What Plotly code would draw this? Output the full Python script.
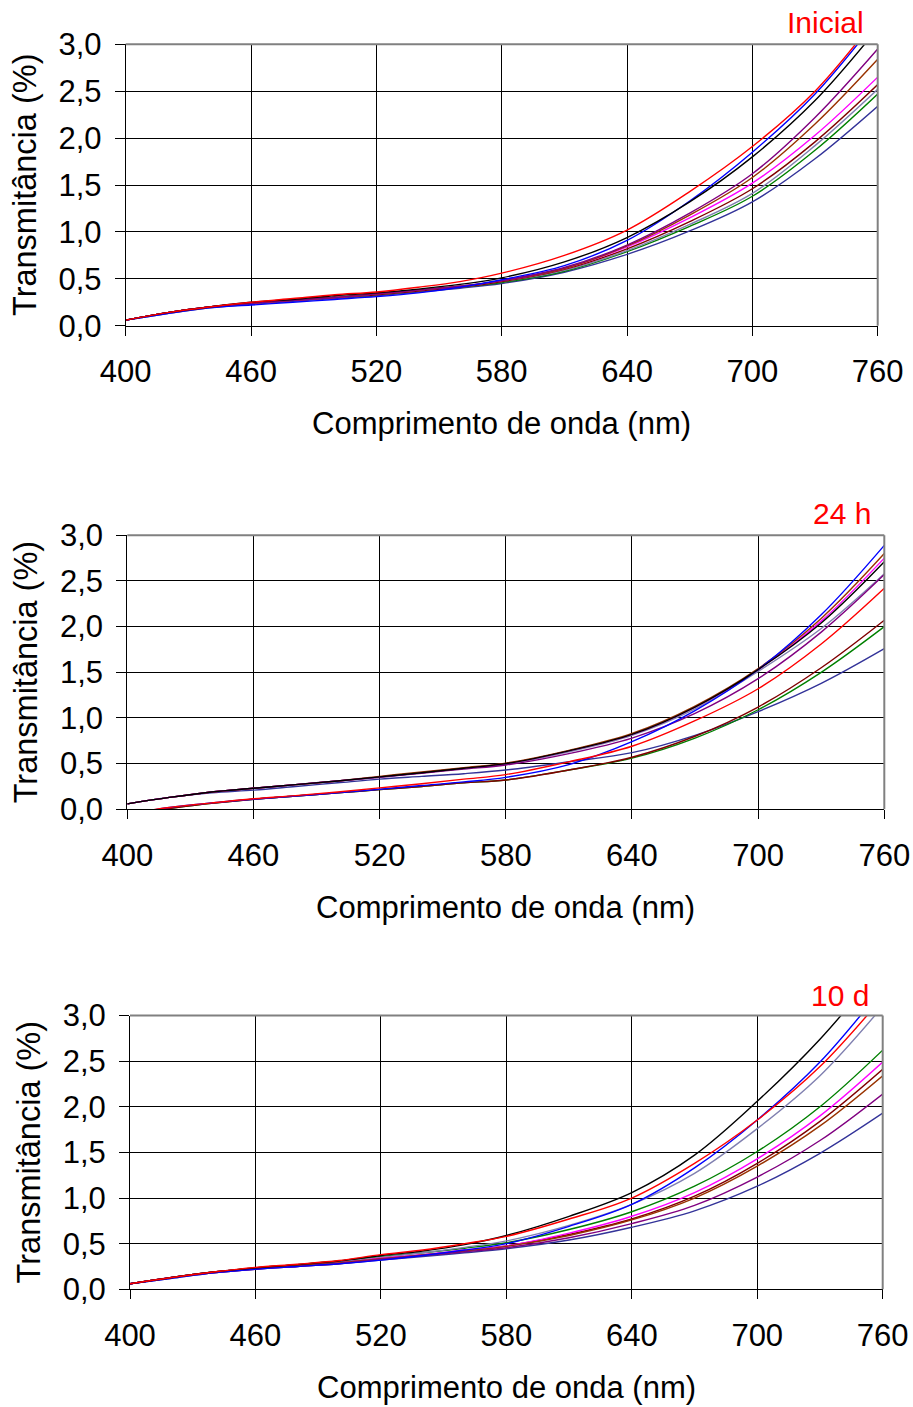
import plotly.graph_objects as go

# Wavelength sampling points (nm)
wavelength = [400, 420, 440, 460, 480, 500, 520, 540, 560, 580, 610, 640, 670, 700, 730, 760]

# Line colours for the ten samples
colors = ["#333399", "#008000", "#8080B0", "#800000", "#FF00FF",
          "#993300", "#800080", "#0000FF", "#000000", "#FF0000"]

# ---- Inicial: transmittance (%) per sample ----
ini_navy    = [0.06, 0.13, 0.19, 0.23, 0.26, 0.29, 0.32, 0.36, 0.40, 0.45, 0.57, 0.76, 1.01, 1.32, 1.78, 2.34]
ini_green   = [0.06, 0.14, 0.20, 0.24, 0.27, 0.30, 0.33, 0.37, 0.41, 0.46, 0.58, 0.79, 1.06, 1.38, 1.87, 2.47]
ini_gray    = [0.06, 0.14, 0.20, 0.24, 0.27, 0.30, 0.33, 0.37, 0.41, 0.47, 0.59, 0.80, 1.08, 1.41, 1.92, 2.52]
ini_maroon  = [0.06, 0.14, 0.20, 0.24, 0.27, 0.30, 0.33, 0.37, 0.41, 0.47, 0.60, 0.82, 1.11, 1.46, 1.96, 2.57]
ini_magenta = [0.06, 0.14, 0.20, 0.24, 0.27, 0.30, 0.34, 0.38, 0.42, 0.48, 0.61, 0.84, 1.15, 1.52, 2.03, 2.65]
ini_brown   = [0.06, 0.14, 0.20, 0.24, 0.27, 0.30, 0.34, 0.38, 0.42, 0.48, 0.61, 0.85, 1.18, 1.58, 2.15, 2.84]
ini_purple  = [0.06, 0.14, 0.20, 0.24, 0.27, 0.30, 0.34, 0.38, 0.42, 0.48, 0.62, 0.86, 1.20, 1.62, 2.22, 2.95]
ini_blue    = [0.06, 0.13, 0.19, 0.22, 0.25, 0.28, 0.31, 0.35, 0.41, 0.49, 0.64, 0.91, 1.33, 1.85, 2.47, 3.27]
ini_black   = [0.06, 0.14, 0.20, 0.25, 0.28, 0.32, 0.35, 0.39, 0.44, 0.51, 0.68, 0.94, 1.32, 1.80, 2.40, 3.17]
ini_red     = [0.06, 0.14, 0.20, 0.25, 0.29, 0.33, 0.36, 0.41, 0.47, 0.56, 0.75, 1.02, 1.43, 1.91, 2.50, 3.30]

# ---- 24 h ----
h24_navy    = [0.06, 0.13, 0.18, 0.21, 0.25, 0.29, 0.33, 0.36, 0.39, 0.43, 0.52, 0.62, 0.81, 1.07, 1.38, 1.76]
h24_green   = [-0.05, 0.01, 0.065, 0.11, 0.145, 0.18, 0.215, 0.25, 0.29, 0.32, 0.43, 0.56, 0.78, 1.09, 1.50, 2.00]
h24_gray    = [0.06, 0.13, 0.19, 0.23, 0.27, 0.31, 0.35, 0.40, 0.445, 0.495, 0.63, 0.81, 1.10, 1.51, 1.98, 2.58]
h24_maroon  = [-0.05, 0.01, 0.065, 0.11, 0.145, 0.18, 0.215, 0.25, 0.29, 0.32, 0.43, 0.57, 0.80, 1.12, 1.55, 2.07]
h24_magenta = [0.06, 0.13, 0.19, 0.23, 0.27, 0.31, 0.355, 0.40, 0.45, 0.50, 0.64, 0.82, 1.12, 1.53, 2.06, 2.75]
h24_brown   = [0.06, 0.13, 0.19, 0.23, 0.27, 0.31, 0.36, 0.41, 0.455, 0.505, 0.645, 0.83, 1.13, 1.54, 2.09, 2.80]
h24_purple  = [0.06, 0.13, 0.19, 0.23, 0.27, 0.31, 0.35, 0.395, 0.44, 0.485, 0.61, 0.78, 1.05, 1.43, 1.94, 2.57]
h24_blue    = [-0.06, 0.02, 0.07, 0.11, 0.145, 0.18, 0.22, 0.26, 0.30, 0.35, 0.49, 0.74, 1.08, 1.53, 2.13, 2.89]
h24_black   = [0.06, 0.13, 0.19, 0.23, 0.27, 0.31, 0.355, 0.40, 0.45, 0.50, 0.64, 0.82, 1.12, 1.53, 2.04, 2.71]
h24_red     = [-0.05, 0.02, 0.07, 0.115, 0.15, 0.19, 0.235, 0.28, 0.33, 0.38, 0.52, 0.69, 0.97, 1.32, 1.81, 2.42]

# ---- 10 d ----
d10_navy    = [0.06, 0.12, 0.18, 0.22, 0.25, 0.28, 0.32, 0.36, 0.40, 0.445, 0.54, 0.68, 0.86, 1.13, 1.49, 1.93]
d10_green   = [0.06, 0.13, 0.19, 0.235, 0.27, 0.31, 0.36, 0.40, 0.45, 0.51, 0.655, 0.85, 1.13, 1.51, 2.00, 2.62]
d10_gray    = [0.06, 0.13, 0.19, 0.23, 0.27, 0.30, 0.35, 0.40, 0.46, 0.53, 0.70, 0.93, 1.27, 1.76, 2.34, 3.10]
d10_maroon  = [0.06, 0.13, 0.19, 0.23, 0.26, 0.29, 0.335, 0.375, 0.42, 0.475, 0.60, 0.77, 1.02, 1.38, 1.84, 2.41]
d10_magenta = [0.06, 0.13, 0.19, 0.23, 0.26, 0.29, 0.34, 0.38, 0.43, 0.475, 0.615, 0.80, 1.06, 1.43, 1.90, 2.49]
d10_brown   = [0.06, 0.13, 0.19, 0.23, 0.26, 0.29, 0.335, 0.375, 0.42, 0.47, 0.59, 0.76, 1.00, 1.35, 1.79, 2.34]
d10_purple  = [0.06, 0.13, 0.18, 0.22, 0.25, 0.28, 0.33, 0.37, 0.41, 0.455, 0.565, 0.72, 0.92, 1.23, 1.63, 2.14]
d10_blue    = [0.06, 0.12, 0.18, 0.22, 0.25, 0.28, 0.32, 0.37, 0.43, 0.50, 0.69, 0.93, 1.33, 1.855, 2.49, 3.30]
d10_black   = [0.06, 0.13, 0.19, 0.235, 0.27, 0.31, 0.37, 0.42, 0.49, 0.59, 0.80, 1.06, 1.47, 2.06, 2.74, 3.55]
d10_red     = [0.06, 0.13, 0.19, 0.24, 0.275, 0.315, 0.38, 0.43, 0.50, 0.58, 0.77, 1.00, 1.38, 1.855, 2.44, 3.20]

panel_titles = ["Inicial", "24 h", "10 d"]
panel_series = [
    [ini_navy, ini_green, ini_gray, ini_maroon, ini_magenta, ini_brown, ini_purple, ini_blue, ini_black, ini_red],
    [h24_navy, h24_green, h24_gray, h24_maroon, h24_magenta, h24_brown, h24_purple, h24_blue, h24_black, h24_red],
    [d10_navy, d10_green, d10_gray, d10_maroon, d10_magenta, d10_brown, d10_purple, d10_blue, d10_black, d10_red],
]
x_ticks = [400, 460, 520, 580, 640, 700, 760]
y_ticks = [0.0, 0.5, 1.0, 1.5, 2.0, 2.5, 3.0]

W, H = 913, 1407
FONT = "Liberation Sans, Arial, sans-serif"


def fx(p):
    return p / W


def fy(p):
    return 1 - p / H


# plot-area boxes in pixels: left, right, top, bottom
boxes = [(125.7, 877.7, 44.3, 325.7), (127.3, 884.3, 535.3, 809.3), (130.0, 882.7, 1015.5, 1289.3)]
# label placement: (x title y, y title x, panel title right edge, panel title y)
labels = [(423, 25, 866, 22), (907, 26, 873, 514), (1387, 29, 871, 995)]

fig = go.Figure()
layout = dict(
    template="none",
    width=W, height=H, margin=dict(l=0, r=0, t=0, b=0, pad=0, autoexpand=False),
    paper_bgcolor="white", plot_bgcolor="white",
    showlegend=False, separators=",.",
    font=dict(family=FONT, color="black"),
)
annotations = []
shapes = []

for i, (series, title) in enumerate(zip(panel_series, panel_titles)):
    n = "" if i == 0 else str(i + 1)
    xa, ya = "x" + n, "y" + n
    for vals, col in zip(series, colors):
        fig.add_trace(go.Scatter(
            x=wavelength, y=vals, mode="lines", xaxis=xa, yaxis=ya,
            line=dict(color=col, width=1.4, shape="spline", smoothing=1.0),
            hoverinfo="skip",
        ))
    l, r, t, b = boxes[i]
    common = dict(
        automargin=False,
        showgrid=True, gridcolor="black", gridwidth=1,
        showline=True, linecolor="black", linewidth=1,
        ticks="outside", tickcolor="black", tickwidth=1,
        tickfont=dict(family=FONT, size=31, color="black"),
        zeroline=False, fixedrange=True,
    )
    layout["xaxis" + n] = dict(
        common, domain=[fx(l), fx(r)], range=[400, 760], anchor=ya,
        tickmode="array", tickvals=x_ticks, ticklen=9,
        ticklabelstandoff=9,
    )
    layout["yaxis" + n] = dict(
        common, domain=[fy(b), fy(t)], range=[0, 3], anchor=xa,
        tickmode="array", tickvals=y_ticks, tickformat=".1f", ticklen=10,
        ticklabelstandoff=7,
    )
    # gray frame on top and right edges
    shapes.append(dict(type="line", xref="paper", yref="paper",
                       x0=fx(l), x1=fx(r), y0=fy(t), y1=fy(t),
                       line=dict(color="#808080", width=2)))
    shapes.append(dict(type="line", xref="paper", yref="paper",
                       x0=fx(r), x1=fx(r), y0=fy(t), y1=fy(b),
                       line=dict(color="#808080", width=2)))

    xt_y, yt_x, pt_x, pt_y = labels[i]
    annotations.append(dict(
        text="Comprimento de onda (nm)", xref="paper", yref="paper",
        x=fx((l + r) / 2), y=fy(xt_y), xanchor="center", yanchor="middle",
        showarrow=False, font=dict(family=FONT, size=31, color="black"),
    ))
    annotations.append(dict(
        text="Transmitância (%)", xref="paper", yref="paper",
        x=fx(yt_x), y=fy((t + b) / 2), xanchor="center", yanchor="middle",
        textangle=-90, showarrow=False,
        font=dict(family=FONT, size=32.5, color="black"),
    ))
    annotations.append(dict(
        text=title, xref="paper", yref="paper",
        x=fx(pt_x), y=fy(pt_y), xanchor="right", yanchor="middle",
        showarrow=False, font=dict(family=FONT, size=30, color="#FF0000"),
    ))

layout["annotations"] = annotations
layout["shapes"] = shapes
fig.update_layout(**layout)
fig.write_html("out.html")
